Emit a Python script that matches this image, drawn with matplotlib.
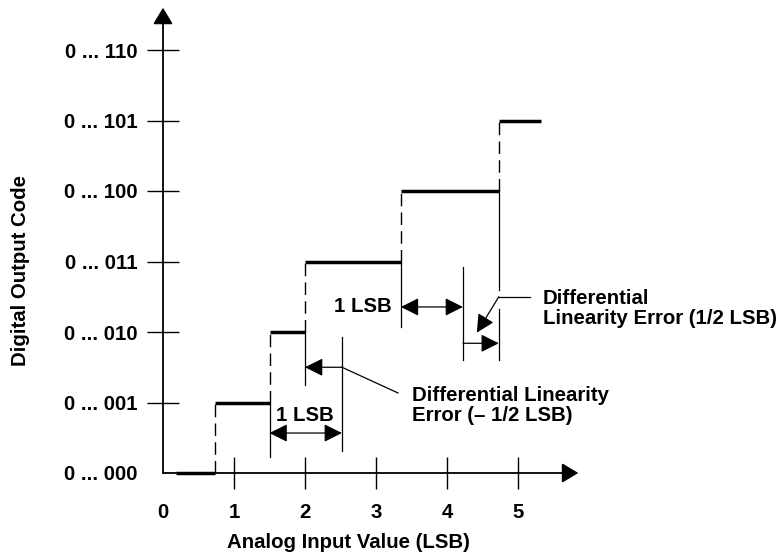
import matplotlib
matplotlib.use("Agg")
import matplotlib.pyplot as plt

plt.rcParams['font.family'] = ['Liberation Sans', 'DejaVu Sans']
plt.rcParams['font.weight'] = 'bold'
plt.rcParams['font.size'] = 14.7

# axis ticks / labels
x_ticks = [0, 1, 2, 3, 4, 5]
x_labels = ['0', '1', '2', '3', '4', '5']
y_ticks = [0, 1, 2, 3, 4, 5, 6]
y_labels = ['0 ... 000', '0 ... 001', '0 ... 010', '0 ... 011',
            '0 ... 100', '0 ... 101', '0 ... 110']

# transfer function steps (code, start, end in LSB)
codes = [0, 1, 2, 3, 4, 5]
step_start = [0.18, 0.73, 1.5, 2.0, 3.35, 4.73]
step_end = [0.73, 1.5, 2.0, 3.35, 4.73, 5.32]

# pixel scale of the original drawing
X0, Y0 = 163, 473
PX_X, PX_Y = 71.0, 70.5

fig = plt.figure(figsize=(7.82, 5.58), dpi=100)
ax = fig.add_axes([0, 0, 1, 1])
ax.set_xlim(-X0 / PX_X, (782 - X0) / PX_X)
ax.set_ylim(-(558 - Y0) / PX_Y, Y0 / PX_Y)

for s in ['top', 'right', 'left', 'bottom']:
    ax.spines[s].set_visible(False)
ax.spines['left'].set_position(('data', 0))
ax.spines['bottom'].set_position(('data', 0))

ax.set_xticks(x_ticks, x_labels)
ax.set_yticks(y_ticks, y_labels)
ax.tick_params(direction='inout', length=23, width=1.0, color='black')
ax.tick_params(axis='x', pad=10)
ax.tick_params(axis='y', pad=7)
ax.xaxis.get_major_ticks()[0].tick1line.set_visible(False)
ax.yaxis.get_major_ticks()[0].tick1line.set_visible(False)

# axes with arrow heads
axis_arrow = dict(arrowstyle='-|>,head_length=1.0,head_width=0.6',
                  mutation_scale=10, lw=1.3, color='black',
                  shrinkA=0, shrinkB=0)
ax.annotate('', xy=(0, 6.6), xytext=(0, 0), arrowprops=axis_arrow)
ax.annotate('', xy=(5.85, 0), xytext=(0, 0), arrowprops=axis_arrow)

# steps
for c, a, b in zip(codes, step_start, step_end):
    ax.plot([a, b], [c, c], color='black', lw=2.5, solid_capstyle='butt')
# dashed transitions
for c, b in zip(codes[:-1], step_end[:-1]):
    ax.plot([b, b], [c, c + 1], color='black', lw=1.0, dashes=(9, 4.5))

thin = dict(color='black', lw=0.9)
head = dict(arrowstyle='-|>,head_length=1.1,head_width=0.55', mutation_scale=10,
            lw=0.9, color='black', shrinkA=0, shrinkB=0)
dhead = dict(head, arrowstyle='<|-|>,head_length=1.1,head_width=0.55')

# lower dimension: 1 LSB and -1/2 LSB
ax.plot([step_end[1], step_end[1]], [codes[1], 0.227], **thin)
ax.plot([2.52, 2.52], [1.93, 0.31], **thin)
ax.plot([step_end[2], step_end[2]], [codes[2], 1.25], **thin)
ax.annotate('', xy=(step_end[1], 0.567), xytext=(2.52, 0.567), arrowprops=dhead)
ax.text(2.0, 0.82, '1 LSB', ha='center', va='center')
ax.annotate('', xy=(step_end[2], 1.5), xytext=(2.52, 1.5), arrowprops=head)
ax.plot([2.52, 3.31], [1.5, 1.135], **thin)
ax.text(3.51, 1.23, 'Differential Linearity\nError (\u2013 1/2 LSB)',
        ha='left', va='top', linespacing=1.05)

# upper dimension: 1 LSB and +1/2 LSB
ax.plot([step_end[3], step_end[3]], [codes[3], 2.07], **thin)
ax.plot([4.225, 4.225], [2.92, 1.60], **thin)
ax.plot([step_end[4], step_end[4]], [codes[4], 2.6], **thin)
ax.plot([step_end[4], step_end[4]], [2.33, 1.60], **thin)
ax.annotate('', xy=(step_end[3], 2.355), xytext=(4.225, 2.355), arrowprops=dhead)
ax.text(3.225, 2.355, '1 LSB', ha='right', va='center')
ax.annotate('', xy=(step_end[4], 1.84), xytext=(4.225, 1.84), arrowprops=head)
ax.plot([step_end[4], 5.17], [2.5, 2.5], **thin)
ax.annotate('', xy=(4.42, 1.99), xytext=(step_end[4], 2.5), arrowprops=head)
ax.text(5.35, 2.61, 'Differential\nLinearity Error (1/2 LSB)',
        ha='left', va='top', linespacing=1.05)

fig.text(21 / 782, 1 - 270 / 558, 'Digital Output Code', rotation=90,
         ha='center', va='center')
fig.text(348 / 782, 1 - 543 / 558, 'Analog Input Value (LSB)',
         ha='center', va='center')

fig.savefig('out.png', dpi=100)
